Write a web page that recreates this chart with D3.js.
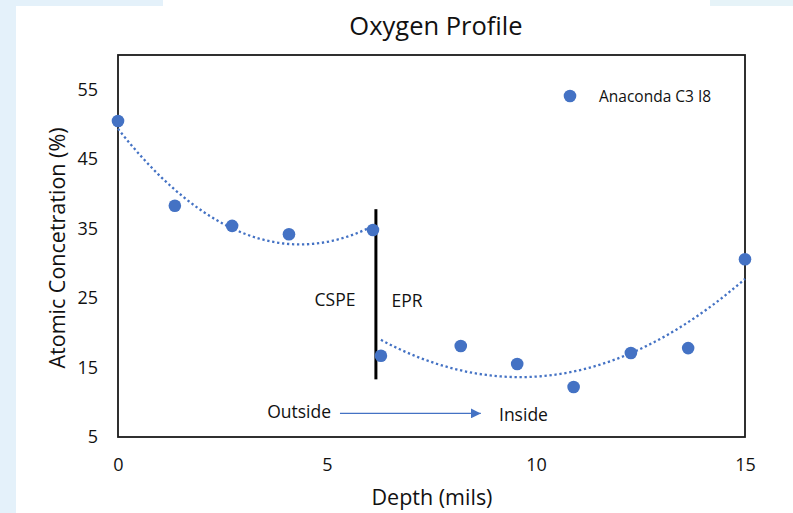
<!DOCTYPE html>
<html><head><meta charset="utf-8">
<script src="https://cdn.jsdelivr.net/npm/d3@7"></script>
<style>html,body{margin:0;padding:0;background:#fff;}svg{display:block;}</style>
</head><body>
<svg id="chart" width="793" height="513"></svg>
<script>
// Data
const depthCSPE = [0, 1.36, 2.73, 4.09, 6.1];
const oxygenCSPE = [50.5, 38.3, 35.4, 34.2, 34.8];
const depthEPR = [6.29, 8.2, 9.55, 10.9, 12.27, 13.64, 15.0];
const oxygenEPR = [16.7, 18.1, 15.5, 12.2, 17.1, 17.8, 30.6];
const xTicks = [0, 5, 10, 15];
const yTicks = [5, 15, 25, 35, 45, 55];
const seriesName = "Anaconda C3 I8";
const chartTitle = "Oxygen Profile";
const xTitle = "Depth (mils)";
const yTitle = "Atomic Concetration (%)";
const dividerX = 6.17, dividerY = [37.8, 13.3];
const arrowX = [5.31, 8.68], arrowY = 8.4;

const font = "'Open Sans', 'Noto Sans', sans-serif";
const blue = "#4472c4";
const svg = d3.select("#chart");

// slide background
svg.append("rect").attr("width",793).attr("height",513).attr("fill","#ffffff");
svg.append("rect").attr("x",0).attr("y",0).attr("width",16).attr("height",513).attr("fill","#e4f1fa");
svg.append("rect").attr("x",0).attr("y",0).attr("width",163).attr("height",6).attr("fill","#e4f1fa");
svg.append("rect").attr("x",710).attr("y",0).attr("width",83).attr("height",6).attr("fill","#e6f3f8");

const x = d3.scaleLinear().domain([0,15]).range([118,745]);
const y = d3.scaleLinear().domain([5,60]).range([437,55]);

// plot border
svg.append("rect").attr("x",x(0)).attr("y",y(60)).attr("width",x(15)-x(0)).attr("height",y(5)-y(60))
  .attr("fill","none").attr("stroke","#1a1a1a").attr("stroke-width",1.8);

// axes labels via d3 axes (no tick lines)
const xAxis = svg.append("g").attr("transform",`translate(0,${y(5)})`)
  .call(d3.axisBottom(x).tickValues(xTicks).tickSize(0).tickPadding(21).tickFormat(d3.format("d")));
xAxis.select(".domain").remove();
xAxis.selectAll("text").attr("font-family",font).attr("font-size",18).attr("fill","#111");
const yAxis = svg.append("g").attr("transform",`translate(${x(0)},0)`)
  .call(d3.axisLeft(y).tickValues(yTicks).tickSize(0).tickPadding(20).tickFormat(d3.format("d")));
yAxis.select(".domain").remove();
yAxis.selectAll("text").attr("font-family",font).attr("font-size",18).attr("fill","#111");

// titles
svg.append("text").attr("x",436).attr("y",35).attr("text-anchor","middle")
  .attr("font-family",font).attr("font-size",25.5).attr("fill","#111").text(chartTitle);
svg.append("text").attr("x",432).attr("y",505).attr("text-anchor","middle")
  .attr("font-family",font).attr("font-size",21.5).attr("fill","#111").text(xTitle);
svg.append("text").attr("transform",`translate(65,248) rotate(-90)`).attr("text-anchor","middle")
  .attr("font-family",font).attr("font-size",21.5).attr("fill","#111").text(yTitle);

// quadratic least-squares trendline
function quadFit(xs, ys){
  let n=xs.length,S=[0,0,0,0,0],T=[0,0,0];
  for(let i=0;i<n;i++){let p=1;for(let k=0;k<5;k++){S[k]+=p;if(k<3)T[k]+=p*ys[i];p*=xs[i];}}
  const A=[[S[0],S[1],S[2],T[0]],[S[1],S[2],S[3],T[1]],[S[2],S[3],S[4],T[2]]];
  for(let i=0;i<3;i++){for(let j=i+1;j<3;j++){const f=A[j][i]/A[i][i];for(let k=i;k<4;k++)A[j][k]-=f*A[i][k];}}
  const c=[0,0,0];
  for(let i=2;i>=0;i--){let s=A[i][3];for(let k=i+1;k<3;k++)s-=A[i][k]*c[k];c[i]=s/A[i][i];}
  return t=>c[0]+c[1]*t+c[2]*t*t;
}
function trend(xs, ys){
  const f=quadFit(xs,ys);
  const lo=d3.min(xs), hi=d3.max(xs);
  const pts=d3.range(0,101).map(i=>{const t=lo+(hi-lo)*i/100;return [t,f(t)];});
  svg.append("path").attr("d",d3.line().x(d=>x(d[0])).y(d=>y(d[1]))(pts))
    .attr("fill","none").attr("stroke",blue).attr("stroke-width",2.3).attr("stroke-dasharray","2.3,2.7");
}
trend(depthCSPE, oxygenCSPE);
trend(depthEPR, oxygenEPR);

// divider line
svg.append("line").attr("x1",x(dividerX)).attr("x2",x(dividerX)).attr("y1",y(dividerY[0])).attr("y2",y(dividerY[1]))
  .attr("stroke","#000").attr("stroke-width",3);

// points
const pts = depthCSPE.map((d,i)=>[d,oxygenCSPE[i]]).concat(depthEPR.map((d,i)=>[d,oxygenEPR[i]]));
svg.append("g").selectAll("circle").data(pts).join("circle")
  .attr("cx",d=>x(d[0])).attr("cy",d=>y(d[1])).attr("r",6.3).attr("fill",blue);

// annotations
const annFs = 17.5;
svg.append("text").attr("x",335).attr("y",306).attr("text-anchor","middle")
  .attr("font-family",font).attr("font-size",annFs).attr("fill","#111").text("CSPE");
svg.append("text").attr("x",407).attr("y",307).attr("text-anchor","middle")
  .attr("font-family",font).attr("font-size",annFs).attr("fill","#111").text("EPR");
svg.append("text").attr("x",331).attr("y",418).attr("text-anchor","end")
  .attr("font-family",font).attr("font-size",annFs).attr("fill","#111").text("Outside");
svg.append("text").attr("x",499).attr("y",421).attr("text-anchor","start")
  .attr("font-family",font).attr("font-size",annFs).attr("fill","#111").text("Inside");
svg.append("defs").append("marker").attr("id","ah").attr("viewBox","0 0 10 10").attr("refX",10).attr("refY",5)
  .attr("markerWidth",10).attr("markerHeight",10).attr("markerUnits","userSpaceOnUse").attr("orient","auto")
  .append("path").attr("d","M0,0 L10,5 L0,10 Z").attr("fill",blue);
svg.append("line").attr("x1",x(arrowX[0])).attr("x2",x(arrowX[1])).attr("y1",y(arrowY)).attr("y2",y(arrowY))
  .attr("stroke",blue).attr("stroke-width",1.2).attr("marker-end","url(#ah)");

// legend
svg.append("circle").attr("cx",570).attr("cy",96).attr("r",6.3).attr("fill",blue);
svg.append("text").attr("x",599).attr("y",102).attr("font-family",font).attr("font-size",15.5).attr("fill","#111").text(seriesName);
</script>
</body></html>
